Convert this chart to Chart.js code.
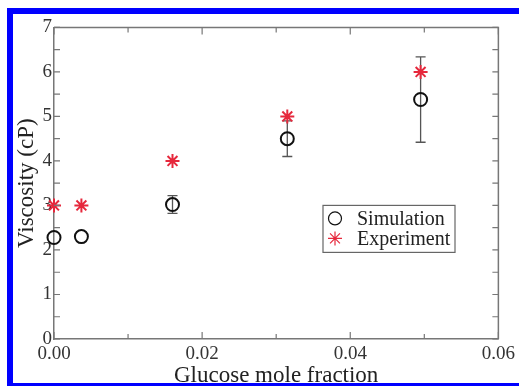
<!DOCTYPE html>
<html><head><meta charset="utf-8">
<script src="https://cdn.jsdelivr.net/npm/chart.js@4"></script>
<style>
html,body{margin:0;padding:0;background:#fff;overflow:hidden;width:519px;height:386px;}
#frame{position:absolute;left:7px;top:8px;width:520px;height:369px;border-left:6px solid #0000ff;border-top:6px solid #0000ff;border-bottom:6px solid #0000ff;}
#wrap{position:absolute;left:13px;top:14px;width:506px;height:369px;}
</style></head>
<body>
<div id="frame"></div>
<div id="wrap"><canvas id="c" width="506" height="369"></canvas></div>
<script>
// ---- data ----
const moleFraction = [0, 0.0037, 0.016, 0.0315, 0.0495];
const simulation   = [2.28, 2.3, 3.02, 4.5, 5.38];
const simErr       = [0, 0, 0.2, 0.4, 0.96];
const experiment   = [3.0, 3.0, 4.0, 5.0, 6.0];
const xTickLabels  = ['0.00', '0.02', '0.04', '0.06'];
const yTickLabels  = ['0', '1', '2', '3', '4', '5', '6', '7'];
const seriesNames  = ['Simulation', 'Experiment'];

const SERIF = "'Liberation Serif', 'Times New Roman', serif";
Chart.defaults.font.family = SERIF;

const simPts = moleFraction.map((x, i) => ({x, y: simulation[i]}));
const expPts = moleFraction.map((x, i) => ({x, y: experiment[i]}));

const errorBars = {
  id: 'errorBars',
  beforeDatasetsDraw(chart) {
    const ctx = chart.ctx, xs = chart.scales.x, ys = chart.scales.y;
    ctx.save();
    ctx.strokeStyle = '#555';
    ctx.lineWidth = 1.3;
    simPts.forEach((p, i) => {
      if (!simErr[i]) return;
      const px = xs.getPixelForValue(p.x);
      const top = ys.getPixelForValue(p.y + simErr[i]);
      const bot = ys.getPixelForValue(p.y - simErr[i]);
      ctx.beginPath();
      ctx.moveTo(px, top); ctx.lineTo(px, bot);
      ctx.moveTo(px - 5, top); ctx.lineTo(px + 5, top);
      ctx.moveTo(px - 5, bot); ctx.lineTo(px + 5, bot);
      ctx.stroke();
    });
    ctx.restore();
  }
};

const frameTicks = {
  id: 'frameTicks',
  afterDraw(chart) {
    const ctx = chart.ctx, a = chart.chartArea, xs = chart.scales.x, ys = chart.scales.y;
    ctx.save();
    ctx.strokeStyle = '#777';
    ctx.lineWidth = 1.5;
    ctx.beginPath();
    ctx.moveTo(a.left, a.top); ctx.lineTo(a.right, a.top); ctx.lineTo(a.right, a.bottom);
    ctx.stroke();
    ctx.lineWidth = 1.2;
    ctx.beginPath();
    xs.ticks.forEach(t => {
      const px = xs.getPixelForValue(t.value);
      const major = Math.round(t.value * 100) % 2 === 0;
      const L = major ? 7 : 5;
      ctx.moveTo(px, a.bottom); ctx.lineTo(px, a.bottom - L);
      ctx.moveTo(px, a.top); ctx.lineTo(px, a.top + L);
    });
    ys.ticks.forEach(t => {
      const py = ys.getPixelForValue(t.value);
      const L = 6;
      ctx.moveTo(a.left, py); ctx.lineTo(a.left + L, py);
      ctx.moveTo(a.right, py); ctx.lineTo(a.right - L, py);
    });
    ctx.stroke();
    ctx.restore();
  }
};

const boxLegend = {
  id: 'boxLegend',
  afterDraw(chart) {
    const ctx = chart.ctx, a = chart.chartArea;
    const x0 = a.left + 269, y0 = a.top + 178, w = 132, h = 47;
    ctx.save();
    ctx.fillStyle = '#fff';
    ctx.fillRect(x0, y0, w, h);
    ctx.strokeStyle = '#666';
    ctx.lineWidth = 1.2;
    ctx.strokeRect(x0, y0, w, h);
    const ds = chart.data.datasets;
    ds.forEach((d, i) => {
      const my = y0 + 13 + i * 20;
      ctx.strokeStyle = d.borderColor;
      ctx.fillStyle = d.backgroundColor;
      Chart.helpers.drawPoint(ctx, {pointStyle: d.pointStyle, radius: d.pointRadius, borderWidth: d.borderWidth, rotation: 0}, x0 + 12, my);
      ctx.fillStyle = '#222';
      ctx.font = '20px ' + SERIF;
      ctx.textBaseline = 'middle';
      ctx.textAlign = 'left';
      ctx.fillText(d.label, x0 + 34, my + 1);
    });
    ctx.restore();
  }
};

new Chart(document.getElementById('c'), {
  type: 'scatter',
  data: {
    datasets: [
      {label: seriesNames[0], data: simPts, pointStyle: 'circle', pointRadius: 6.5, pointHoverRadius: 6.5,
       borderColor: '#111', backgroundColor: 'rgba(0,0,0,0)', borderWidth: 2, clip: false},
      {label: seriesNames[1], data: expPts, pointStyle: 'star', pointRadius: 7, pointHoverRadius: 7,
       borderColor: '#e6283c', backgroundColor: '#e6283c', borderWidth: 2, clip: false}
    ]
  },
  options: {
    responsive: false,
    animation: false,
    layout: {padding: {left: 0, top: 13, right: 17, bottom: 0}},
    plugins: {legend: {display: false}, tooltip: {enabled: false}},
    scales: {
      x: {
        type: 'linear', min: 0, max: 0.06,
        ticks: {
          stepSize: 0.01, autoSkip: false, maxRotation: 0, padding: 4, color: '#333',
          font: {size: 19, family: SERIF},
          callback: v => { const k = Math.round(v * 100); return k % 2 === 0 ? xTickLabels[k / 2] : ''; }
        },
        grid: {drawOnChartArea: false, drawTicks: false},
        border: {color: '#777', width: 1.5},
        title: {display: true, text: 'Glucose mole fraction', color: '#222', font: {size: 23, family: SERIF, lineHeight: 1}, padding: {top: 0, bottom: -4}},
        afterFit: s => { s.height = 44; }
      },
      y: {
        type: 'linear', min: 0, max: 7,
        ticks: {
          stepSize: 0.5, autoSkip: false, padding: 2, color: '#333',
          font: {size: 19, family: SERIF},
          callback: v => Number.isInteger(v) ? yTickLabels[v] : ''
        },
        grid: {drawOnChartArea: false, drawTicks: false},
        border: {color: '#777', width: 1.5},
        title: {display: true, text: 'Viscosity (cP)', color: '#222', font: {size: 23, family: SERIF, lineHeight: 1}, padding: {top: 2.5, bottom: 0}},
        afterFit: s => { s.width = 41; }
      }
    }
  },
  plugins: [errorBars, frameTicks, boxLegend]
});
</script>
</body></html>
